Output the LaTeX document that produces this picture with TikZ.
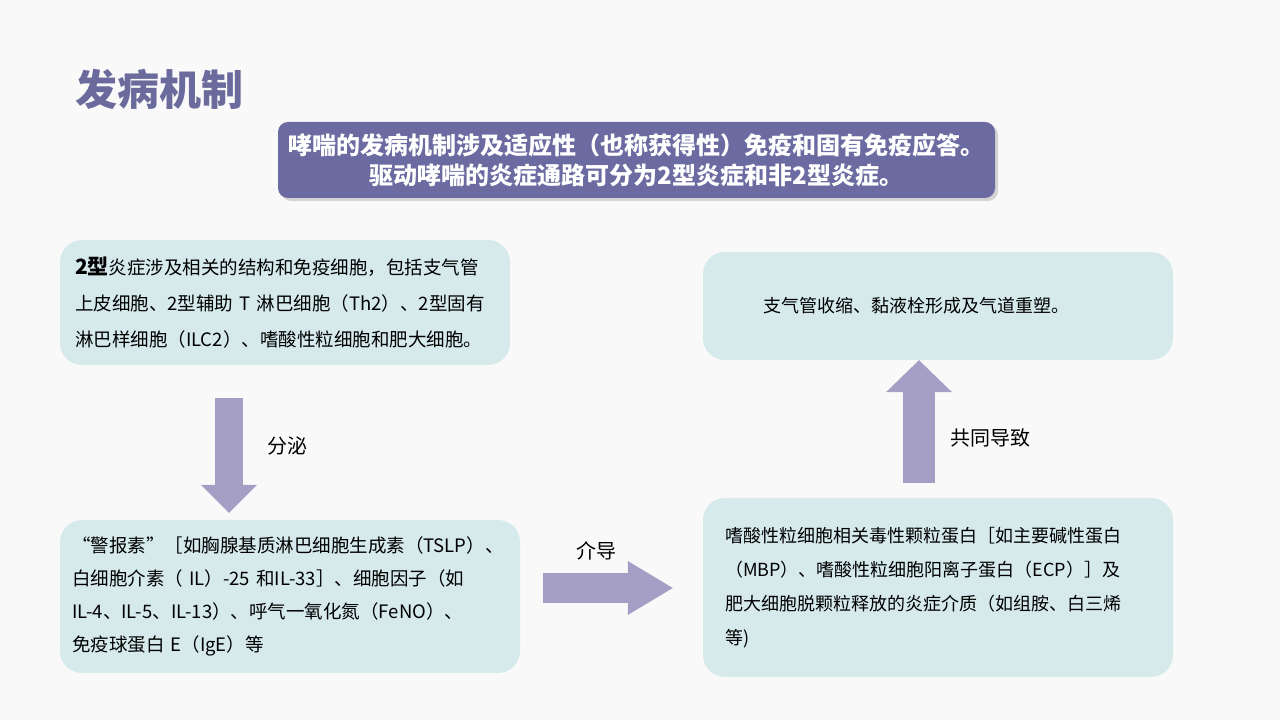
\documentclass[tikz,border=0pt]{standalone}
\usepackage{fontspec}
\newfontfamily\cjk{Noto Sans CJK SC}
\usetikzlibrary{calc,arrows.meta,shadows}
\definecolor{pagebg}{HTML}{F9F9F9}
\definecolor{titlecol}{HTML}{6A6A9C}
\definecolor{bannercol}{HTML}{6B6BA1}
\definecolor{boxfill}{HTML}{D6EAEC}
\definecolor{arrowcol}{HTML}{A59FC6}

\begin{document}
\begin{tikzpicture}[x=1pt,y=1pt,
  box/.style={fill=boxfill, rounded corners=22pt, align=left, inner ysep=0pt},
  blockarrow/.style={draw=arrowcol, line cap=butt},
  lbl/.style={font=\cjk\fontsize{20}{24}\selectfont, inner sep=0pt}]
\fill[pagebg] (0,0) rectangle (1280,720);
\useasboundingbox (0,0) rectangle (1280,720);

\node[anchor=west, text=titlecol, inner sep=0pt, font=\cjk\bfseries\fontsize{42}{50}\selectfont] (title) at (75,631) {发病机制};

\node[fill=bannercol, rounded corners=10pt, minimum width=717pt, minimum height=76pt, text=white, align=center,
  drop shadow={shadow xshift=3pt, shadow yshift=-3pt, opacity=0.3},
  font=\cjk\bfseries\fontsize{24}{30}\selectfont] (banner) at (636.5,560)
  {哮喘的发病机制涉及适应性（也称获得性）免疫和固有免疫应答。\\驱动哮喘的炎症通路可分为2型炎症和非2型炎症。};

\node[box, minimum width=450pt, minimum height=125pt, inner xsep=15pt, text width=420pt,
  font=\cjk\fontsize{18.5}{36}\selectfont] (boxA) at (285,417.5)
  {{\bfseries\fontsize{21}{36}\selectfont 2型}炎症涉及相关的结构和免疫细胞，包括支气管\\
   上皮细胞、2型辅助~T~淋巴细胞（Th2）、2型固有\\
   淋巴样细胞（ILC2）、嗜酸性粒细胞和肥大细胞。};

\node[box, minimum width=460pt, minimum height=153pt, inner xsep=12pt, text width=436pt,
  font=\cjk\fontsize{18.5}{33}\selectfont] (boxB) at (290,123.5)
  {“警报素”［如胸腺基质淋巴细胞生成素（TSLP）、\\
   白细胞介素（~IL）-25~和IL-33］、细胞因子（如\\
   IL-4、IL-5、IL-13）、呼气一氧化氮（FeNO）、\\
   免疫球蛋白~E（IgE）等};

\node[box, minimum width=470pt, minimum height=179pt, inner xsep=22pt, text width=426pt,
  font=\cjk\fontsize{18}{34}\selectfont] (boxC) at (938,132.5)
  {嗜酸性粒细胞相关毒性颗粒蛋白［如主要碱性蛋白\\
   （MBP）、嗜酸性粒细胞阳离子蛋白（ECP）］及\\
   肥大细胞脱颗粒释放的炎症介质（如组胺、白三烯\\
   等)};

\node[box, minimum width=470pt, minimum height=108pt, inner xsep=60pt, text width=350pt,
  font=\cjk\fontsize{18}{34}\selectfont] (boxD) at (938,414)
  {支气管收缩、黏液栓形成及气道重塑。};

\coordinate (dnx) at (229,0);
\coordinate (rty) at (0,132);
\coordinate (upx) at (919,0);

\draw[blockarrow, line width=28pt, -{Triangle[width=56pt,length=28pt,line width=0pt]}]
  ($(boxA.south -| dnx)+(0,-33)$) -- ($(boxB.north -| dnx)+(0,7)$);
\draw[blockarrow, line width=30pt, -{Triangle[width=54pt,length=45pt,line width=0pt]}]
  ($(boxB.east |- rty)+(23,0)$) -- ($(boxC.west |- rty)+(-30,0)$);
\draw[blockarrow, line width=32pt, -{Triangle[width=66pt,length=32pt,line width=0pt]}]
  ($(boxC.north -| upx)+(0,15)$) -- (boxD.south -| upx);

\node[lbl] (fenmi) at (287,274) {分泌};
\node[lbl] (jiedao) at (596,169) {介导};
\node[lbl] (daozhi) at (990,282) {共同导致};
\end{tikzpicture}
\end{document}
